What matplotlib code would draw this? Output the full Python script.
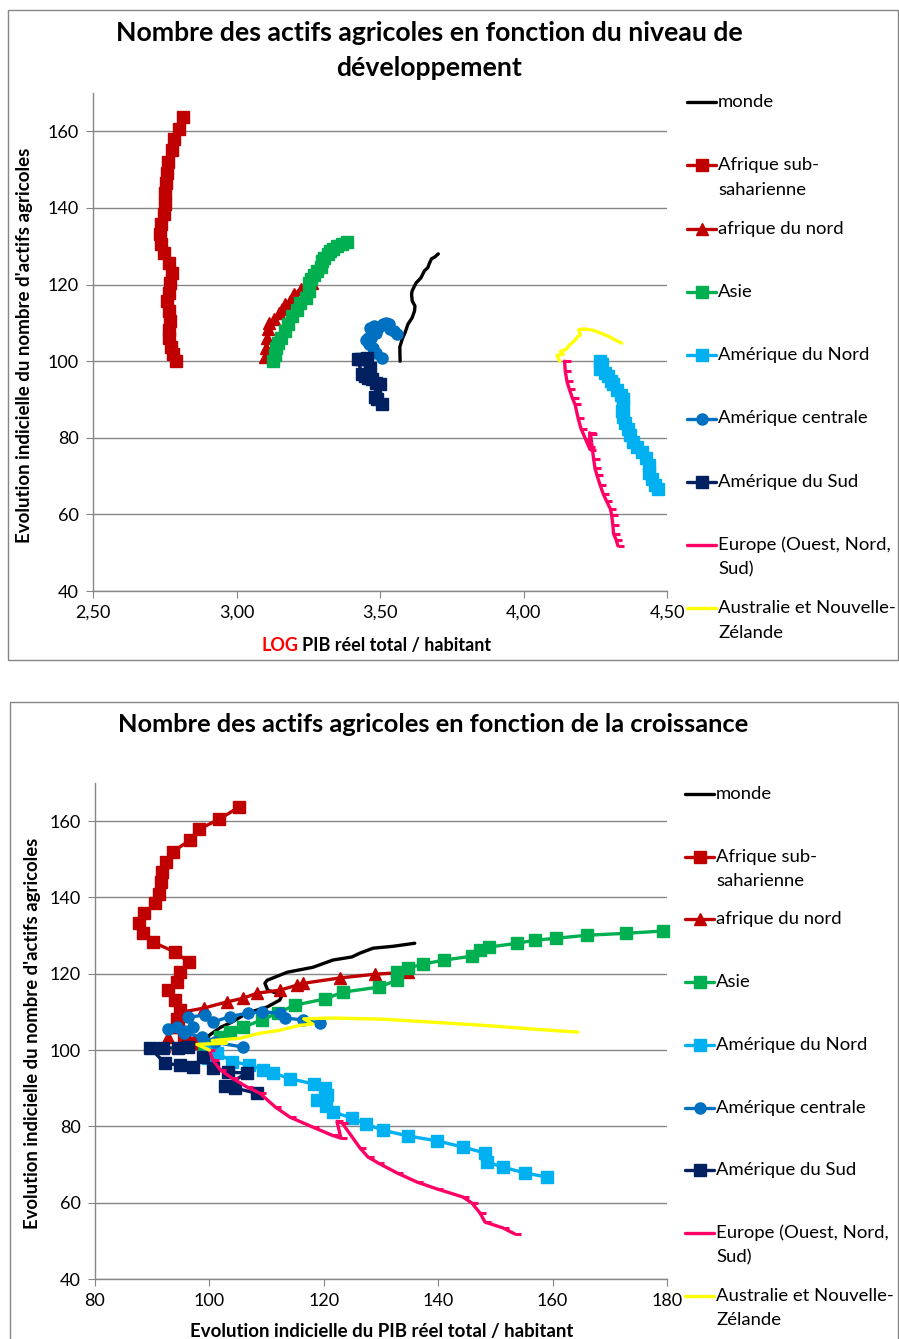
import numpy as np
import matplotlib
matplotlib.use("Agg")
import matplotlib.pyplot as plt
from matplotlib.lines import Line2D
from matplotlib.patches import Rectangle

plt.rcParams['font.family'] = ['Lato', 'DejaVu Sans']

W, H = 899, 1339

# --- data: x = indice du PIB reel / habitant (base 100), y = indice des actifs agricoles ---
monde_x = [100.0, 99.8, 102.0, 103.9, 106.6, 110.1, 112.3, 112.7, 110.2, 109.7, 110.1, 113.6, 118.1, 121.6, 124.9, 126.3, 128.6, 132.1, 135.9]
monde_y = [100.0, 103.7, 106.0, 107.3, 109.7, 111.3, 113.1, 114.4, 115.7, 117.5, 118.3, 120.4, 121.7, 123.6, 124.4, 125.4, 126.7, 127.2, 128.0]

ssa_x = [99.5, 97.5, 95.5, 94.5, 94.3, 94.9, 94.0, 92.8, 94.3, 94.9, 96.4, 94.0, 90.1, 88.4, 87.7, 88.6, 90.5, 91.2, 91.5, 91.7, 92.4, 93.6, 96.6, 98.2, 101.7, 105.2]
ssa_y = [100.0, 101.8, 103.8, 106.0, 108.2, 110.5, 113.0, 115.7, 117.8, 120.4, 123.0, 125.7, 128.3, 130.7, 133.3, 135.9, 138.5, 141.0, 144.0, 146.6, 149.2, 152.0, 155.0, 157.9, 160.5, 163.7]

afn_x = [92.0, 92.8, 93.5, 94.5, 95.4, 99.0, 103.0, 105.9, 108.3, 112.3, 115.3, 116.4, 122.8, 129.0, 134.7]
afn_y = [101.0, 103.5, 106.0, 108.5, 110.0, 111.0, 112.6, 113.6, 114.9, 115.7, 117.0, 117.5, 118.9, 119.9, 120.4]

asie_x = [99.0, 100.5, 101.9, 103.6, 105.9, 109.2, 112.0, 115.0, 120.2, 123.4, 129.6, 132.8, 132.8, 134.7, 137.3, 141.0, 145.9, 147.3, 148.9, 153.8, 156.9, 160.6, 166.0, 172.8, 179.3]
asie_y = [100.0, 101.5, 103.4, 104.7, 106.0, 107.9, 109.8, 111.8, 113.4, 115.2, 116.5, 118.3, 120.4, 121.5, 122.5, 123.6, 124.6, 126.2, 127.0, 128.0, 128.8, 129.3, 130.1, 130.6, 131.2]

amn_x = [100.0, 99.8, 101.3, 104.0, 106.9, 109.4, 111.1, 114.1, 118.3, 120.2, 120.6, 118.8, 120.4, 121.6, 124.9, 127.4, 130.3, 134.7, 139.8, 144.3, 148.2, 148.5, 151.3, 155.2, 159.0]
amn_y = [100.0, 97.9, 99.2, 97.0, 96.1, 94.8, 94.0, 92.5, 91.1, 90.0, 88.2, 86.9, 85.4, 83.8, 82.2, 80.6, 79.0, 77.5, 76.2, 74.6, 73.0, 70.7, 69.3, 67.8, 66.7]

amc_x = [105.9, 101.0, 98.7, 95.5, 92.8, 94.3, 97.1, 96.3, 99.2, 100.6, 103.6, 106.7, 109.2, 112.3, 113.2, 116.4, 119.3]
amc_y = [100.8, 102.0, 103.4, 104.5, 105.5, 106.0, 106.0, 108.6, 109.2, 107.3, 108.8, 109.7, 110.0, 109.7, 108.4, 107.9, 107.1]

ams_x = [96.3, 94.5, 91.9, 89.6, 92.2, 94.9, 97.1, 98.9, 100.6, 103.3, 106.6, 102.7, 104.5, 108.3]
ams_y = [100.7, 100.6, 100.5, 100.6, 96.6, 96.0, 95.5, 98.2, 95.3, 94.2, 94.0, 90.6, 90.0, 88.7]

eur_x = [100.0, 100.6, 101.9, 103.9, 106.6, 108.8, 111.5, 114.1, 118.1, 121.4, 123.0, 122.3, 123.2, 126.3, 127.7, 129.5, 132.8, 136.3, 139.8, 144.3, 145.9, 147.3, 148.2, 151.3, 153.4]
eur_y = [100.0, 97.4, 94.8, 92.7, 90.3, 88.7, 85.1, 82.4, 79.8, 77.7, 76.9, 81.3, 80.9, 74.4, 72.0, 70.4, 67.8, 65.4, 63.6, 61.5, 59.9, 57.3, 54.9, 53.4, 51.8]

aus_x = [100.0, 97.8, 103.0, 100.5, 105.3, 108.8, 112.3, 115.8, 118.1, 116.5, 121.6, 130.3, 139.1, 147.8, 156.6, 164.4]
aus_y = [100.0, 101.5, 101.8, 102.5, 103.1, 104.4, 105.2, 106.5, 106.8, 108.2, 108.4, 108.1, 107.3, 106.5, 105.5, 104.7]

# PIB reel / habitant de l'annee de base (indice 100), pour le graphique en LOG
pib_base = [3715, 618, 1365, 1352, 18493, 3034, 2958, 13900, 13366]

noms = ["monde", "Afrique sub-\nsaharienne", "afrique du nord", "Asie", "Amérique du Nord",
        "Amérique centrale", "Amérique du Sud", "Europe (Ouest, Nord,\nSud)", "Australie et Nouvelle-\nZélande"]
couleurs = ["#000000", "#C00000", "#C00000", "#00B050", "#00B0F0", "#0070C0", "#002060", "#FF0066", "#FFFF00"]
marqueurs = [None, "s", "^", "s", "s", "o", "s", 1, None]

series_x = [monde_x, ssa_x, afn_x, asie_x, amn_x, amc_x, ams_x, eur_x, aus_x]
series_y = [monde_y, ssa_y, afn_y, asie_y, amn_y, amc_y, ams_y, eur_y, aus_y]

y_ticks = [40, 60, 80, 100, 120, 140, 160]
log_ticks = [2.5, 3.0, 3.5, 4.0, 4.5]
log_labels = ["2,50", "3,00", "3,50", "4,00", "4,50"]
idx_ticks = [80, 100, 120, 140, 160, 180]
idx_labels = ["80", "100", "120", "140", "160", "180"]

GRIS = "#868686"

fig = plt.figure(figsize=(W / 100, H / 100), dpi=100)


def fx(px):
    return px / W


def fy(py):
    return 1 - py / H


def style(m, c):
    kw = dict(color=c, lw=2.4, clip_on=False, solid_joinstyle="round", solid_capstyle="round")
    if m == 1:
        kw.update(marker=1, ms=4.5, mew=2.2, mec=c)
    elif m is not None:
        kw.update(marker=m, ms=8, mec=c, mfc=c)
    return kw


def setup(ax, xlim, xt, xl):
    ax.set_xlim(*xlim)
    ax.set_ylim(40, 170)
    ax.set_xticks(xt)
    ax.set_xticklabels(xl)
    ax.set_yticks(y_ticks)
    ax.set_yticklabels([str(v) for v in y_ticks])
    for s in ["top", "right"]:
        ax.spines[s].set_visible(False)
    for s in ["left", "bottom"]:
        ax.spines[s].set_color(GRIS)
        ax.spines[s].set_linewidth(1.0)
    ax.yaxis.grid(True, color=GRIS, lw=1.0)
    ax.set_axisbelow(True)
    ax.tick_params(direction="out", length=5, color=GRIS, labelsize=13, pad=5)


def legende(x0, y0, pas):
    for i, (nom, c, m) in enumerate(zip(noms, couleurs, marqueurs)):
        y = y0 + i * pas
        kw = style(m, c)
        kw.pop("marker", None)
        fig.add_artist(Line2D([fx(x0), fx(x0 + 29)], [fy(y), fy(y)], transform=fig.transFigure, **kw))
        if m is not None:
            km = style(m, c)
            km["lw"] = 0
            fig.add_artist(Line2D([fx(x0 + 14.5)], [fy(y)], transform=fig.transFigure, **km))
        for k, ligne in enumerate(nom.split("\n")):
            fig.text(fx(x0 + 31), fy(y + k * 24.5), ligne, fontsize=13.3, va="center", ha="left")


# cadres
fig.add_artist(Rectangle((fx(8), fy(660)), fx(898) - fx(8), fy(10) - fy(660), transform=fig.transFigure,
                         fill=False, ec=GRIS, lw=1.0))
fig.add_artist(Rectangle((fx(10), fy(1345)), fx(898) - fx(10), fy(702) - fy(1345), transform=fig.transFigure,
                         fill=False, ec=GRIS, lw=1.0))

# ---- graphique 1 : LOG PIB ----
ax1 = fig.add_axes([fx(93), fy(591), fx(667) - fx(93), fy(93) - fy(591)])
for xs, ys, c, m, b in zip(series_x, series_y, couleurs, marqueurs, pib_base):
    lx = np.log10(b * np.array(xs) / 100.0)
    ax1.plot(lx, ys, **style(m, c))
setup(ax1, (2.5, 4.5), log_ticks, log_labels)

fig.text(fx(429), fy(33), "Nombre des actifs agricoles en fonction du niveau de", fontsize=19.2,
         fontweight="bold", ha="center", va="center")
fig.text(fx(429), fy(68), "développement", fontsize=19.2, fontweight="bold", ha="center", va="center")
fig.text(fx(25), fy(345), "Evolution indicielle du nombre d'actifs agricoles", rotation=90, fontsize=13.5,
         fontweight="bold", ha="center", va="center")
fig.text(fx(298), fy(646), "LOG", color="#FF0000", fontsize=13, fontweight="bold", ha="right", va="center")
fig.text(fx(302), fy(646), "PIB réel total / habitant", fontsize=13, fontweight="bold", ha="left", va="center")
legende(687, 102, 63.3)

# ---- graphique 2 : indice PIB ----
ax2 = fig.add_axes([fx(95), fy(1279), fx(667) - fx(95), fy(783) - fy(1279)])
for xs, ys, c, m in zip(series_x, series_y, couleurs, marqueurs):
    ax2.plot(xs, ys, **style(m, c))
setup(ax2, (80, 180), idx_ticks, idx_labels)

fig.text(fx(433), fy(725), "Nombre des actifs agricoles en fonction de la croissance", fontsize=18.3,
         fontweight="bold", ha="center", va="center")
fig.text(fx(33), fy(1033), "Evolution indicielle du nombre d'actifs agricoles", rotation=90, fontsize=13.3,
         fontweight="bold", ha="center", va="center")
fig.text(fx(382), fy(1332), "Evolution indicielle du PIB réel total / habitant", fontsize=13.4,
         fontweight="bold", ha="center", va="center")
legende(685, 794, 62.7)

fig.savefig("out.png", dpi=100)
